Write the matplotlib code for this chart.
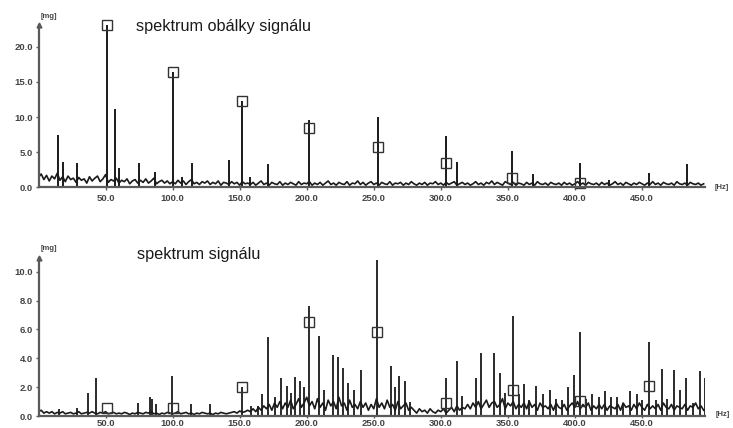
import numpy as np
import matplotlib
matplotlib.use("Agg")
import matplotlib.pyplot as plt

# ---------------- data ----------------
noise_step_hz = 2.0

# top panel: envelope spectrum noise floor [mg], one value per 2 Hz from 0 Hz
env_noise = [
    1.4, 1.9, 1.1, 1.7, 0.9, 1.6, 1.2, 2.0, 1.0, 1.5,
    0.8, 1.6, 1.1, 1.3, 0.7, 1.4, 1.0, 1.2, 0.6, 1.5,
    0.9, 1.3, 1.6, 0.8, 1.2, 1.8, 0.7, 1.1, 0.9, 1.3,
    0.6, 1.0, 0.8, 1.2, 0.5, 0.9, 1.1, 0.6, 1.0, 0.7,
    1.2, 0.6, 0.9, 1.3, 0.5, 0.8, 1.0, 0.6, 0.9, 0.5,
    0.8, 0.5, 1.0, 0.6, 0.9, 0.4, 0.8, 1.1, 0.5, 0.7,
    0.4, 0.8, 0.6, 0.9, 0.4, 0.7, 0.5, 0.9, 0.3, 0.7,
    0.6, 0.4, 0.8, 0.5, 0.7, 0.3, 0.8, 0.5, 0.6, 0.4,
    0.7, 0.3, 0.6, 0.9, 0.4, 0.6, 0.3, 0.7, 0.5, 0.4,
    0.8, 0.3, 0.6, 0.4, 0.7, 0.5, 0.3, 0.8, 0.4, 0.6,
    0.5, 0.8, 0.3, 0.6, 0.4, 0.7, 0.3, 0.6, 0.9, 0.4,
    0.6, 0.3, 0.7, 0.5, 0.4, 0.8, 0.3, 0.6, 0.5, 0.9,
    0.4, 0.7, 0.3, 0.6, 0.8, 0.4, 0.6, 0.3, 0.7, 0.5,
    0.4, 0.8, 0.3, 0.6, 0.5, 0.7, 0.3, 0.6, 0.4, 0.8,
    0.5, 0.3, 0.6, 0.4, 0.7, 0.3, 0.6, 0.5, 0.8, 0.4,
    0.6, 0.3, 0.7, 0.4, 0.6, 0.8, 0.3, 0.5, 0.7, 0.4,
    0.6, 0.3, 0.5, 0.8, 0.4, 0.6, 0.3, 0.7, 0.5, 0.9,
    0.4, 0.7, 0.5, 0.3, 0.8, 0.6, 0.4, 0.7, 0.3, 0.6,
    0.5, 0.3, 0.7, 0.4, 0.6, 0.3, 0.8, 0.5, 0.4, 0.6,
    0.3, 0.7, 0.5, 0.4, 0.6, 0.3, 0.7, 0.4, 0.6, 0.3,
    0.5, 0.8, 0.4, 0.6, 0.3, 0.7, 0.5, 0.4, 0.6, 0.3,
    0.7, 0.4, 0.6, 0.3, 0.5, 0.8, 0.4, 0.6, 0.3, 0.7,
    0.5, 0.3, 0.6, 0.4, 0.7, 0.5, 0.3, 0.6, 0.4, 0.8,
    0.4, 0.6, 0.3, 0.7, 0.5, 0.4, 0.6, 0.3, 0.8, 0.5,
    0.4, 0.6, 0.3, 0.7, 0.5, 0.4, 0.6, 0.3, 0.5,
]
# top panel spectral lines: frequency [Hz], amplitude [mg]
env_peak_f = [14.8, 18.5, 28.5, 50.9, 57.0, 60.0, 75.0, 87.0, 100.6, 107.0,
              114.3, 142.0, 151.6, 158.0, 171.0, 202.0, 252.8, 303.9, 312.0,
              353.4, 369.0, 404.0, 425.7, 455.4, 483.7]
env_peak_a = [7.4, 3.6, 3.5, 23.1, 11.2, 2.7, 3.4, 2.2, 16.4, 1.5,
              3.4, 3.9, 12.3, 1.4, 3.3, 9.6, 10.0, 7.3, 3.65,
              5.2, 1.95, 3.4, 1.0, 2.1, 3.3]
# top panel marked harmonics (squares)
env_mark_f = [50.9, 100.6, 151.6, 202.0, 252.8, 303.9, 353.4, 404.0]
env_mark_a = [23.1, 16.4, 12.3, 8.4, 5.8, 3.4, 1.37, 0.65]

# bottom panel: signal spectrum noise floor [mg], one value per 2 Hz from 0 Hz
sig_noise = [
    0.3, 0.4, 0.2, 0.3, 0.2, 0.3, 0.15, 0.25, 0.2, 0.3,
    0.15, 0.2, 0.25, 0.15, 0.2, 0.3, 0.15, 0.2, 0.25, 0.2,
    0.3, 0.2, 0.15, 0.25, 0.2, 0.3, 0.15, 0.2, 0.25, 0.15,
    0.2, 0.15, 0.25, 0.2, 0.1, 0.2, 0.15, 0.25, 0.2, 0.15,
    0.25, 0.2, 0.3, 0.15, 0.2, 0.1, 0.2, 0.15, 0.25, 0.2,
    0.15, 0.2, 0.3, 0.15, 0.2, 0.25, 0.15, 0.2, 0.1, 0.2,
    0.15, 0.25, 0.2, 0.15, 0.2, 0.1, 0.2, 0.15, 0.25, 0.2,
    0.15, 0.2, 0.25, 0.3, 0.2, 0.35, 0.25, 0.3, 0.4, 0.3,
    0.5, 0.3, 0.6, 0.4, 0.7, 0.5, 0.8, 0.4, 0.9, 0.6,
    1.0, 0.5, 0.9, 0.6, 1.1, 0.5, 0.8, 1.2, 0.6, 0.9,
    1.3, 0.7, 1.0, 0.5, 1.2, 0.6, 0.9, 0.4, 1.1, 0.7,
    1.0, 0.5, 1.3, 0.7, 0.9, 0.4, 1.1, 0.6, 0.8, 0.5,
    1.0, 0.6, 0.9, 0.4, 0.8, 0.5, 1.2, 0.6, 0.9, 0.5,
    1.1, 0.6, 0.8, 0.4, 1.0, 0.5, 0.7, 0.9, 0.4, 0.6,
    0.4, 0.2, 0.5, 0.3, 0.4, 0.2, 0.5, 0.3, 0.2, 0.4,
    0.3, 0.5, 0.2, 0.4, 0.6, 0.3, 0.7, 0.4, 0.6, 0.5,
    0.8, 0.5, 0.9, 0.6, 1.0, 0.5, 0.8, 1.1, 0.6, 0.9,
    1.0, 0.6, 0.8, 1.2, 0.5, 0.9, 0.7, 1.0, 0.5, 0.8,
    0.6, 0.9, 0.5, 1.0, 0.6, 0.8, 0.4, 0.9, 0.6, 0.7,
    0.5, 0.8, 0.4, 0.9, 0.6, 0.5, 0.8, 0.4, 0.7, 0.9,
    0.6, 1.0, 0.5, 0.8, 0.6, 0.9, 0.4, 0.7, 0.5, 0.8,
    0.5, 0.8, 0.4, 0.7, 0.6, 0.5, 0.8, 0.4, 0.9, 0.6,
    0.7, 0.4, 0.8, 0.5, 0.9, 0.6, 0.4, 0.8, 0.5, 0.7,
    0.5, 0.8, 0.4, 0.9, 0.6, 0.5, 0.8, 0.4, 0.7, 0.6,
    0.5, 0.8, 0.4, 0.7, 0.6, 0.9, 0.5, 0.7, 0.4,
]
sig_peak_f = [15.0, 28.6, 37.0, 43.0, 74.0, 83.0, 85.0, 87.5, 99.6, 114.0,
              128.0, 152.0, 158.6, 163.5, 167.0, 170.8, 176.5, 181.0, 185.0, 188.0,
              191.6, 195.0, 198.0, 201.9, 209.3, 213.0, 219.5, 223.0, 227.0, 231.0,
              235.0, 240.7, 252.4, 262.5, 266.0, 269.0, 273.5, 277.0, 303.6, 312.0,
              316.0, 326.0, 329.7, 340.0, 344.0, 347.5, 353.6, 358.0, 361.8, 366.0,
              371.0, 376.0, 381.7, 386.0, 390.0, 394.6, 399.0, 403.6, 408.0, 413.0,
              418.0, 422.8, 427.0, 431.5, 436.0, 441.4, 446.0, 450.0, 455.4, 460.5,
              464.8, 469.0, 474.0, 478.0, 483.0, 488.0, 493.0, 497.0]
sig_peak_a = [0.5, 0.55, 1.6, 2.6, 0.9, 1.3, 1.2, 0.8, 2.8, 0.8,
              0.8, 2.0, 0.7, 0.7, 1.5, 5.5, 1.3, 2.6, 2.1, 1.6,
              2.7, 2.4, 2.0, 7.6, 5.55, 1.8, 4.2, 4.1, 3.3, 2.3,
              1.8, 3.2, 10.8, 3.5, 2.0, 2.75, 2.4, 1.0, 2.66, 3.8,
              1.4, 2.6, 4.4, 4.4, 3.0, 1.6, 6.9, 1.5, 2.2, 1.1,
              2.1, 1.5, 1.8, 1.2, 1.1, 2.0, 2.85, 5.85, 1.2, 1.5,
              1.3, 1.7, 1.3, 1.3, 0.9, 1.7, 1.5, 1.1, 5.1, 1.1,
              3.24, 1.2, 3.2, 1.8, 2.6, 0.9, 3.1, 2.6]
sig_mark_f = [50.9, 100.6, 152.0, 201.9, 252.4, 303.6, 353.6, 403.6, 455.4]
sig_mark_a = [0.53, 0.58, 2.0, 6.5, 5.85, 0.92, 1.8, 1.04, 2.1]

env_yticks = [0.0, 5.0, 10.0, 15.0, 20.0]
sig_yticks = [0.0, 2.0, 4.0, 6.0, 8.0, 10.0]
x_ticks = [50.0, 100.0, 150.0, 200.0, 250.0, 300.0, 350.0, 400.0, 450.0]

title_top = "spektrum obálky signálu"
title_bottom = "spektrum signálu"
unit_y = "[mg]"
unit_x = "[Hz]"

# ---------------- figure ----------------
W, H = 733, 428
fig = plt.figure(figsize=(W / 100, H / 100), dpi=100)
fig.patch.set_facecolor("white")


def fx(px):
    return px / W


def fy(py):
    return 1 - py / H


AX_COL = "#5a5a5a"
LINE_COL = "#1a1a1a"
TICK_FONT = dict(family="Liberation Sans", size=6.8, weight="bold")


def setup(ax, ymax, yticks, xpad, xlen):
    ax.set_xlim(0, 497)
    ax.set_ylim(0, ymax)
    for s in ("top", "right"):
        ax.spines[s].set_visible(False)
    for s in ("left", "bottom"):
        ax.spines[s].set_color(AX_COL)
        ax.spines[s].set_linewidth(1.6)
    ax.set_yticks(yticks)
    ax.set_yticklabels([f"{v:.1f}" for v in yticks], fontdict=TICK_FONT)
    ax.set_xticks(x_ticks)
    ax.set_xticklabels([f"{v:.1f}" for v in x_ticks], fontdict=TICK_FONT)
    ax.tick_params(axis="y", direction="out", length=2, width=1, colors=AX_COL, pad=2)
    ax.tick_params(axis="x", direction="out", length=xlen, width=1, colors=AX_COL, pad=xpad)
    for lab in ax.get_xticklabels() + ax.get_yticklabels():
        lab.set_color("#444444")
    # arrow head at the top of the y axis
    ax.plot([0], [1], marker="^", ms=3.5, color=AX_COL, transform=ax.get_xaxis_transform(),
            clip_on=False)
    ax.patch.set_alpha(0)


# top panel
ax1 = fig.add_axes([fx(38.5), fy(187.3), fx(705) - fx(38.5), fy(25) - fy(187.3)])
setup(ax1, 23.1, env_yticks, 3.0, 2)
f_env = np.arange(len(env_noise)) * noise_step_hz
ax1.plot(f_env, env_noise, color=LINE_COL, lw=1.2)
ax1.vlines(env_peak_f, 0, env_peak_a, color=LINE_COL, lw=1.4)
ax1.plot(env_mark_f, env_mark_a, ls="none", marker="s", ms=6.5, mfc="none", mec="#333333",
         mew=1.0, clip_on=False)

# bottom panel
ax2 = fig.add_axes([fx(38.5), fy(416), fx(705) - fx(38.5), fy(258.3) - fy(416)])
setup(ax2, 10.93, sig_yticks, 0.4, 1.5)
f_sig = np.arange(len(sig_noise)) * noise_step_hz
ax2.plot(f_sig, sig_noise, color=LINE_COL, lw=1.2)
ax2.vlines(sig_peak_f, 0, sig_peak_a, color=LINE_COL, lw=1.3)
ax2.plot(sig_mark_f, sig_mark_a, ls="none", marker="s", ms=6.5, mfc="none", mec="#333333",
         mew=1.0, clip_on=False)

# texts
TITLE_FONT = dict(family="Liberation Sans", size=11.7, color="#1a1a1a")
fig.text(fx(136), fy(30.5), title_top, ha="left", va="baseline", **TITLE_FONT)
fig.text(fx(137), fy(259), title_bottom, ha="left", va="baseline", **TITLE_FONT)

UNIT_FONT = dict(family="Liberation Sans", size=5.5, weight="bold", color="#444444")
fig.text(fx(41), fy(16), unit_y, ha="left", va="center", **UNIT_FONT)
fig.text(fx(41), fy(249), unit_y, ha="left", va="center", **UNIT_FONT)
fig.text(fx(715), fy(188), unit_x, ha="left", va="center", **UNIT_FONT)
fig.text(fx(716), fy(414), unit_x, ha="left", va="center", **UNIT_FONT)

fig.savefig("out.png", dpi=100, facecolor="white")
